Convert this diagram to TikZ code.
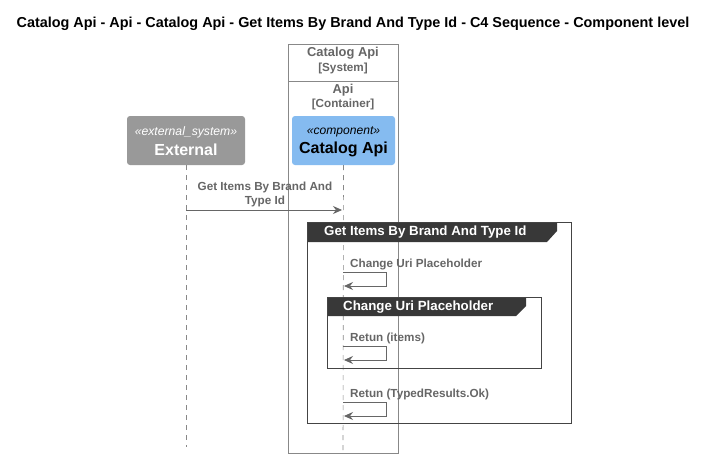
\documentclass[tikz,border=0pt]{standalone}
\usepackage{fontspec}
\setmainfont{Liberation Sans}
\usetikzlibrary{arrows.meta}
\definecolor{lgray}{HTML}{666666}
\definecolor{bgray}{HTML}{888888}
\definecolor{extfill}{HTML}{999999}
\definecolor{compfill}{HTML}{85BBF0}
\definecolor{hdark}{HTML}{383838}
\definecolor{fborder}{HTML}{444444}
\tikzset{
  x=1pt, y=-1pt,
  msg/.style={draw=lgray, line width=0.8pt, -{Stealth[length=9pt,width=8pt,inset=3pt]}},
  lifeline/.style={draw=bgray, line width=0.6pt, dash pattern=on 5pt off 5pt},
  mlabel/.style={text=lgray, font=\bfseries\fontsize{11.7}{14}\selectfont, align=center, inner sep=0pt},
  participant/.style={rounded corners=3pt, minimum width=118pt, minimum height=49pt, inner sep=0pt, align=center},
  frameline/.style={draw=fborder, line width=1pt},
  fhead/.style={text=white, font=\bfseries\fontsize{13.3}{15}\selectfont, anchor=west, inner sep=0pt},
  bnd/.style={text=lgray, font=\bfseries\fontsize{12.9}{14}\selectfont, inner sep=0pt, align=center},
  bndtype/.style={text=lgray, font=\bfseries\fontsize{11.7}{13}\selectfont, inner sep=0pt, align=center},
}
\begin{document}
\begin{tikzpicture}
\useasboundingbox (0,0) rectangle (709,458);
\fill[white] (0,0) rectangle (709,458);
% title
\node[font=\bfseries\fontsize{14.4}{16}\selectfont, inner sep=0pt] (title) at (353,24) {Catalog Api - Api - Catalog Api - Get Items By Brand And Type Id - C4 Sequence - Component level};
% system boundary
\draw[draw=bgray, line width=0.8pt] (288,44) rectangle (398,453);
\draw[draw=bgray, line width=0.8pt] (288,81) -- (398,81);
\node[bnd] (sysname) at (343,53) {Catalog Api};
\node[bndtype] (systype) at (343,68.5) {[System]};
\node[bnd] (contname) at (343,90) {Api};
\node[bndtype] (conttype) at (343,104.5) {[Container]};
% lifelines
\coordinate (extend) at (186,447);
\coordinate (catend) at (343,453);
% participants
\node[participant, fill=extfill, text=white] (ext) at (186,140.5) {};
\node[text=white, font=\itshape\fontsize{12.2}{14}\selectfont, inner sep=0pt] (extst) at (186,132) {«external\_system»};
\node[text=white, font=\bfseries\fontsize{16}{18}\selectfont, inner sep=0pt] (extnm) at (186,149.5) {External};
\node[participant, fill=compfill, minimum width=103pt] (cat) at (343.5,140.5) {};
\node[text=black, font=\itshape\fontsize{12.1}{14}\selectfont, inner sep=0pt] (catst) at (343.5,132) {«component»};
\node[text=black, font=\bfseries\fontsize{16}{18}\selectfont, inner sep=0pt] (catnm) at (343.5,149.5) {Catalog Api};
\draw[lifeline] (ext.south) -- (extend);
\draw[lifeline] (cat.south) -- (catend);
% message 1
\coordinate (m1s) at (186,210);
\coordinate (m1e) at (342,210);
\draw[msg] (m1s) -- (m1e);
\node[mlabel] (m1l) at (265,194) {Get Items By Brand And\\Type Id};
% frame 1
\fill[hdark] (307,222) -- (557,222) -- (557,231) -- (547,242) -- (307,242) -- cycle;
\draw[frameline] (307,222) rectangle (571,423);
\node[fhead] (f1h) at (324,232.5) {Get Items By Brand And Type Id};
% self message 1
\node[mlabel, anchor=west] (s1l) at (350,264) {Change Uri Placeholder};
\coordinate (s1a) at (343,272);
\coordinate (s1b) at (386,272);
\coordinate (s1c) at (386,286);
\coordinate (s1d) at (344,286);
\draw[msg] (s1a) -- (s1b) -- (s1c) -- (s1d);
% frame 2
\fill[hdark] (327,297) -- (526,297) -- (526,306) -- (516,316) -- (327,316) -- cycle;
\draw[frameline] (327,297) rectangle (541,368);
\node[fhead] (f2h) at (343,307) {Change Uri Placeholder};
% self message 2
\node[mlabel, anchor=west] (s2l) at (350,338) {Retun (items)};
\coordinate (s2a) at (343,346);
\coordinate (s2b) at (386,346);
\coordinate (s2c) at (386,360);
\coordinate (s2d) at (344,360);
\draw[msg] (s2a) -- (s2b) -- (s2c) -- (s2d);
% self message 3
\node[mlabel, anchor=west] (s3l) at (350,394) {Retun (TypedResults.Ok)};
\coordinate (s3a) at (343,402);
\coordinate (s3b) at (386,402);
\coordinate (s3c) at (386,416);
\coordinate (s3d) at (344,416);
\draw[msg] (s3a) -- (s3b) -- (s3c) -- (s3d);
\end{tikzpicture}
\end{document}
